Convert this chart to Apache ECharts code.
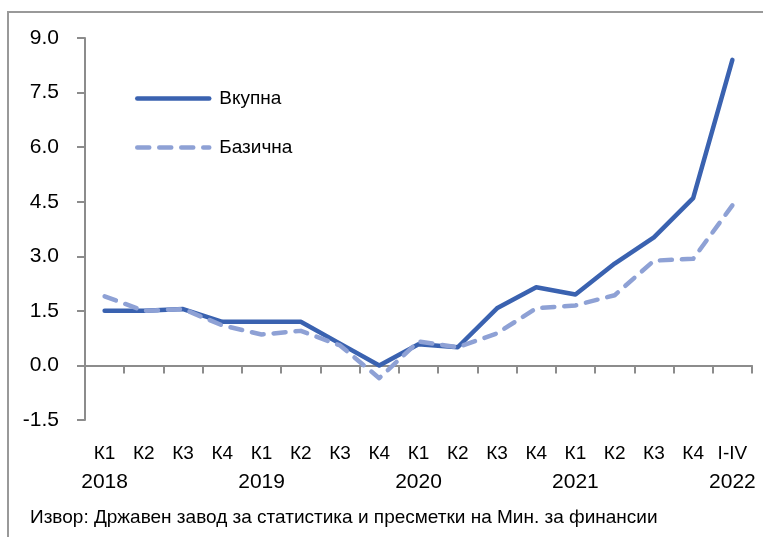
<!DOCTYPE html>
<html>
<head>
<meta charset="utf-8">
<script src="https://cdn.jsdelivr.net/npm/echarts@6/dist/echarts.min.js"></script>
<style>
  html, body { margin: 0; padding: 0; background: #fff; }
  #chart { width: 763px; height: 537px; }
</style>
</head>
<body>
<div id="chart"></div>
<script>
// категории по квартали
const quarters = ['К1', 'К2', 'К3', 'К4', 'К1', 'К2', 'К3', 'К4', 'К1', 'К2', 'К3', 'К4', 'К1', 'К2', 'К3', 'К4', 'I-IV']
const years = ['2018', '', '', '', '2019', '', '', '', '2020', '', '', '', '2021', '', '', '', '2022']

const vkupna = [1.5, 1.5, 1.55, 1.2, 1.2, 1.2, 0.6, 0.0, 0.58, 0.5, 1.57, 2.15, 1.95, 2.8, 3.52, 4.6, 8.4]
const bazicna = [1.9, 1.5, 1.55, 1.1, 0.85, 0.95, 0.55, -0.35, 0.66, 0.5, 0.88, 1.57, 1.65, 1.93, 2.88, 2.93, 4.4]

const yTicks = [-1.5, 0, 1.5, 3, 4.5, 6, 7.5, 9]

const FONT = "'Liberation Sans', Arial, sans-serif"
const axisColor = '#8c8c8c'

const chart = echarts.init(document.getElementById('chart'))

chart.setOption({
  animation: false,
  textStyle: {fontFamily: FONT},
  grid: {left: 85, right: 11, top: 38, bottom: 117, containLabel: false, outerBoundsMode: 'none'},
  legend: {
    orient: 'vertical',
    left: 135,
    top: 89,
    padding: 0,
    itemWidth: 72,
    itemHeight: 18,
    itemGap: 30,
    itemStyle: {opacity: 0},
    lineStyle: {width: 4.5},
    textStyle: {fontFamily: FONT, fontSize: 19, color: '#000', padding: [0, 0, 0, 5]},
    data: ['Вкупна', 'Базична']
  },
  xAxis: {
    type: 'category',
    data: quarters,
    boundaryGap: true,
    axisLine: {onZero: true, lineStyle: {color: axisColor, width: 2}},
    axisTick: {show: true, length: 8, lineStyle: {color: axisColor, width: 2}},
    axisLabel: {
      margin: 19,
      interval: 0,
      color: '#000',
      fontFamily: FONT,
      formatter: (q, i) => '{q|' + q + '}\n{y|' + (years[i] || ' ') + '}',
      rich: {
        q: {fontSize: 19, lineHeight: 29, fontFamily: FONT, color: '#000'},
        y: {fontSize: 21, lineHeight: 29, fontFamily: FONT, color: '#000'}
      }
    }
  },
  yAxis: {
    type: 'value',
    min: yTicks[0],
    max: yTicks[yTicks.length - 1],
    interval: 1.5,
    splitLine: {show: false},
    axisLine: {show: true, lineStyle: {color: axisColor, width: 2}},
    axisTick: {show: true, length: 8, lineStyle: {color: axisColor, width: 2}},
    axisLabel: {
      margin: 26,
      fontSize: 21,
      color: '#000',
      fontFamily: FONT,
      formatter: v => v.toFixed(1)
    }
  },
  graphic: [
    {
      type: 'rect',
      shape: {x: 8, y: 12, width: 900, height: 700},
      style: {fill: 'none', stroke: '#999', lineWidth: 2},
      silent: true
    },
    {
      type: 'text',
      left: 30,
      top: 508,
      style: {
        text: 'Извор: Државен завод за статистика и пресметки на Мин. за финансии',
        font: '19px ' + FONT,
        fill: '#000'
      }
    }
  ],
  series: [
    {
      name: 'Вкупна',
      type: 'line',
      data: vkupna,
      symbol: 'none',
      color: '#3a62b0',
      lineStyle: {width: 4.5, color: '#3a62b0', cap: 'round', join: 'round'}
    },
    {
      name: 'Базична',
      type: 'line',
      data: bazicna,
      symbol: 'none',
      color: '#8ea1d5',
      lineStyle: {width: 4.5, color: '#8ea1d5', type: [12, 10], cap: 'round', join: 'round'}
    }
  ]
})
</script>
</body>
</html>
